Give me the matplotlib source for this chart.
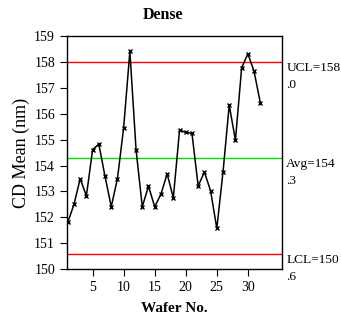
import matplotlib
matplotlib.use("Agg")
import matplotlib.pyplot as plt

wafers = list(range(1, 33))
cd_mean = [151.8, 152.5, 153.49, 152.83, 154.61, 154.83, 153.58, 152.41, 153.49, 155.46,
           158.41, 154.6, 152.41, 153.2, 152.41, 152.89, 153.68, 152.75, 155.37, 155.28,
           155.24, 153.21, 153.75, 153.02, 151.57, 153.75, 156.33, 154.98, 157.77, 158.32,
           157.64, 156.43]
ucl = 158.0
avg = 154.3
lcl = 150.6
ucl_label = "UCL=158\n.0"
avg_label = "Avg=154\n.3"
lcl_label = "LCL=150\n.6"
xticks = [5, 10, 15, 20, 25, 30]
yticks = list(range(150, 160))

plt.rcParams['font.family'] = ['Liberation Serif', 'DejaVu Serif']

fig = plt.figure(figsize=(3.41, 3.25), dpi=100)
ax = fig.add_axes([0.196, 0.172, 0.631, 0.717])

ax.axhline(ucl, color='#ff0000', lw=1.0)
ax.axhline(lcl, color='#ff0000', lw=1.0)
ax.axhline(avg, color='#00dd00', lw=1.0)
ax.plot(wafers, cd_mean, color='black', lw=1.1, marker='x', ms=3, mew=1.0)

ax.set_xlim(0.85, 35.5)
ax.set_ylim(150, 159)
ax.set_xticks(xticks)
ax.set_yticks(yticks)
ax.tick_params(axis='both', direction='out', labelsize=10, length=5, width=0.8)
for s in ax.spines.values():
    s.set_linewidth(1.0)

fig.text(162.5 / 341, 1 - 15 / 325, "Dense", fontsize=11.5, fontweight='bold',
         ha='center', va='center')
ax.set_xlabel("Wafer No.", fontsize=11, fontweight='bold', labelpad=6)
ax.set_ylabel("CD Mean (nm)", fontsize=13, labelpad=3)

for val, lab in [(ucl, ucl_label), (avg, avg_label), (lcl, lcl_label)]:
    ax.text(1.02, val, lab, transform=ax.get_yaxis_transform(), fontsize=9.6,
            va='top', ha='left', linespacing=1.55)

fig.savefig("out.png", dpi=100)
